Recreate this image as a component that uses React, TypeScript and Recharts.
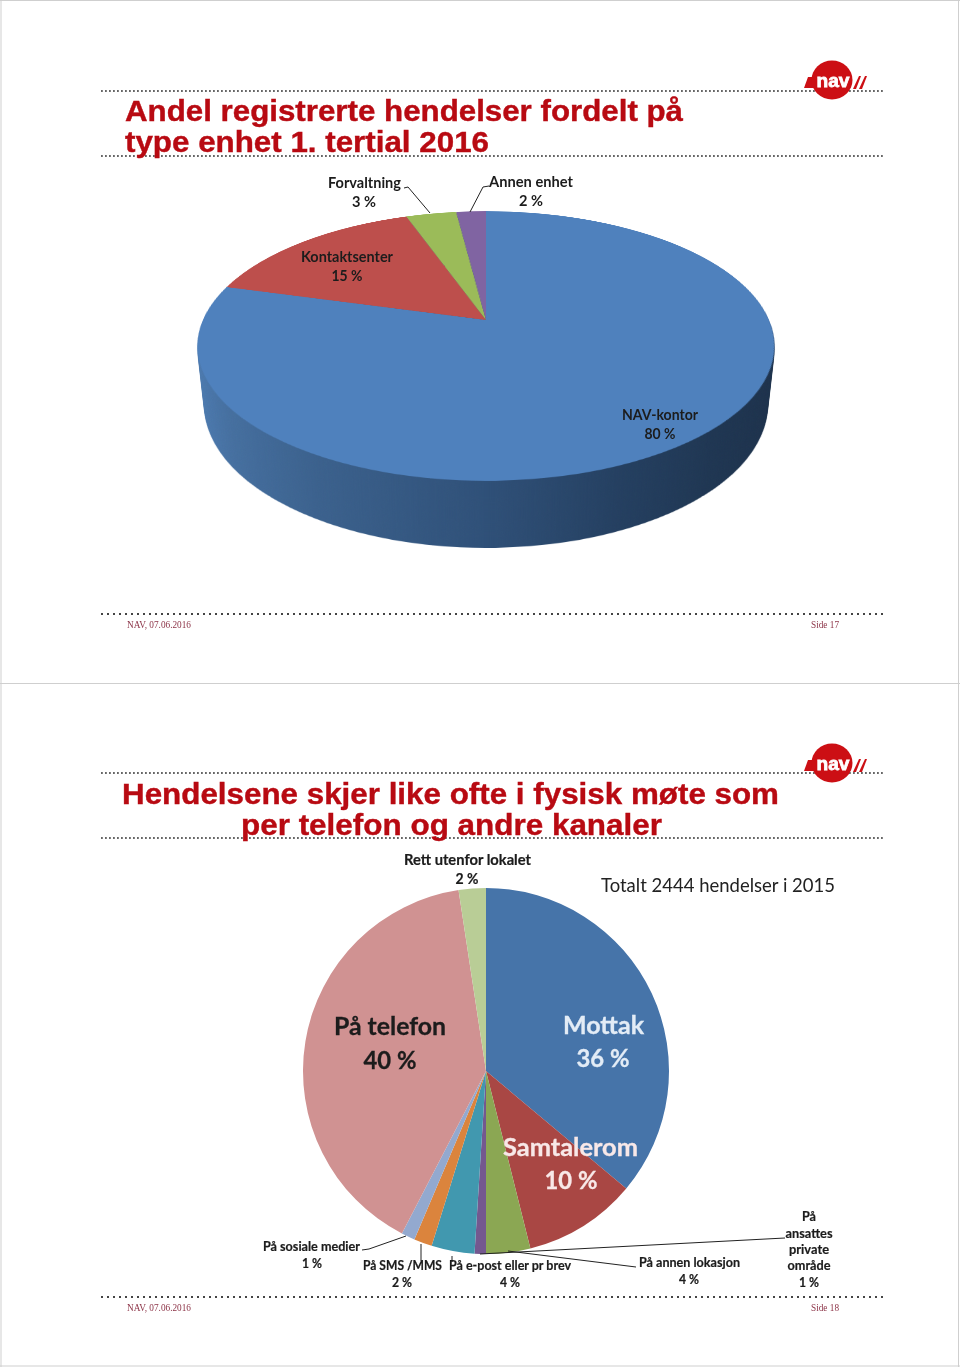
import { PieChart, Pie, Cell } from "recharts";

// slide 1: shares as measured from the slices, printed labels are separate
const unitNames = ["NAV-kontor", "Kontaktsenter", "Forvaltning", "Annen enhet"];
const unitShares = [79.3, 15.3, 3.4, 2.0];
const unitColors = ["#4f81bd", "#bd4f4c", "#9bbb59", "#8064a2"];

// slide 2
const channelNames = [
  "Mottak",
  "Samtalerom",
  "På annen lokasjon",
  "På ansattes private område",
  "På e-post eller pr brev",
  "På SMS /MMS",
  "På sosiale medier",
  "På telefon",
  "Rett utenfor lokalet",
];
const channelShares = [36.1, 10, 3.9, 1, 3.8, 1.6, 1.2, 40, 2.4];
const channelColors = [
  "#4674a9", "#a94744", "#8ba753", "#74588f", "#4198af",
  "#db843d", "#93a9cf", "#d09292", "#b9cd96",
];

const unitData = unitNames.map((name, i) => ({ name, value: unitShares[i] }));
const channelData = channelNames.map((name, i) => ({ name, value: channelShares[i] }));

// 3D view of the first pie
const CHART = 600;
const MID = CHART / 2;
const RADIUS = 283;
const THICKNESS = 67;
const VIEW = "perspective(1305px) rotateX(62.7deg)";

const sideStops = [
  [0.0, "#4d7cb3"],
  [0.1, "#456f9f"],
  [0.25, "#3b618d"],
  [0.5, "#2f5078"],
  [0.7, "#243f60"],
  [0.85, "#1f3652"],
  [1.0, "#1c304a"],
];

function TiltedPie({ depth, side }: { depth: number; side: boolean }) {
  return (
    <div
      style={{
        position: "absolute",
        left: 486 - MID,
        top: 320 - MID,
        width: CHART,
        height: CHART,
        transformOrigin: `${MID}px ${MID}px`,
        transform: `${VIEW} translateZ(${-depth}px)`,
      }}
    >
      <PieChart width={CHART} height={CHART} margin={{ top: 0, right: 0, bottom: 0, left: 0 }}>
        {side && (
          <defs>
            <linearGradient id="pieSide" gradientUnits="userSpaceOnUse" x1={MID - RADIUS} x2={MID + RADIUS} y1={0} y2={0}>
              {sideStops.map(([o, c]) => (
                <stop key={o} offset={o} stopColor={c as string} />
              ))}
            </linearGradient>
          </defs>
        )}
        <Pie
          data={unitData}
          dataKey="value"
          cx={MID}
          cy={MID}
          innerRadius={0}
          outerRadius={RADIUS}
          startAngle={90}
          endAngle={-270}
          stroke="none"
          isAnimationActive={false}
        >
          {unitData.map((_, i) => (
            <Cell key={i} fill={side ? "url(#pieSide)" : unitColors[i]} stroke="none" />
          ))}
        </Pie>
      </PieChart>
    </div>
  );
}

const sideLayers = Array.from({ length: THICKNESS }, (_, i) => THICKNESS - i);

function T({
  x, y, w, size = 14.5, weight = 700, fill = "#1c1c1c", anchor = "middle", font = "Lato", heavy = 0, children,
}: any) {
  return (
    <text
      x={x}
      y={y}
      fontSize={size}
      fontWeight={weight}
      fontFamily={font}
      fill={fill}
      stroke={heavy ? fill : undefined}
      strokeWidth={heavy || undefined}
      textAnchor={anchor}
      textLength={w}
      lengthAdjust={w ? "spacingAndGlyphs" : undefined}
    >
      {children}
    </text>
  );
}

function Logo({ cx, cy }: { cx: number; cy: number }) {
  const red = "#cc0f14";
  return (
    <g>
      <polygon points={`${cx - 28},${cy + 8} ${cx - 24},${cy - 3} ${cx - 16},${cy - 3} ${cx - 18},${cy + 8}`} fill={red} />
      <polygon points={`${cx + 21},${cy + 9} ${cx + 27},${cy - 4} ${cx + 29},${cy - 4} ${cx + 24},${cy + 9}`} fill={red} />
      <polygon points={`${cx + 27},${cy + 9} ${cx + 33},${cy - 4} ${cx + 35},${cy - 4} ${cx + 30},${cy + 9}`} fill={red} />
      <ellipse cx={cx} cy={cy} rx={20.5} ry={19.5} fill={red} />
      <text
        x={cx + 1}
        y={cy + 7}
        fontFamily="Liberation Sans"
        fontWeight={700}
        fontSize={19}
        fill="#fff"
        stroke="#fff"
        strokeWidth={0.8}
        textAnchor="middle"
        textLength={33}
        lengthAdjust="spacingAndGlyphs"
      >
        nav
      </text>
    </g>
  );
}

function Dots({ y, fine }: { y: number; fine?: boolean }) {
  return (
    <line
      x1={101}
      x2={883}
      y1={y}
      y2={y}
      stroke={fine ? "#666" : "#444"}
      strokeWidth={fine ? 1.8 : 2}
      strokeDasharray={fine ? "1.8 2.2" : "2 4"}
    />
  );
}

function Leader({ points }: { points: string }) {
  return <polyline points={points} fill="none" stroke="#222" strokeWidth={1} />;
}

const TITLE_RED = "#b80a12";
const FOOT_RED = "#8c3347";
const titleFont = { size: 30, weight: 700, fill: TITLE_RED, anchor: "start", font: "Liberation Sans", heavy: 0.4 };

export default function App() {
  return (
    <div style={{ position: "absolute", left: 0, top: 0, width: 960, height: 1367, background: "#fff", overflow: "hidden" }}>
      {sideLayers.map((d) => (
        <TiltedPie key={d} depth={d} side />
      ))}
      <TiltedPie depth={0} side={false} />

      <div style={{ position: "absolute", left: 486 - 200, top: 1071 - 200 }}>
        <PieChart width={400} height={400} margin={{ top: 0, right: 0, bottom: 0, left: 0 }}>
          <Pie
            data={channelData}
            dataKey="value"
            cx={200}
            cy={200}
            innerRadius={0}
            outerRadius={183}
            startAngle={90}
            endAngle={-270}
            stroke="none"
            isAnimationActive={false}
          >
            {channelData.map((_, i) => (
              <Cell key={i} fill={channelColors[i]} stroke="none" />
            ))}
          </Pie>
        </PieChart>
      </div>

      <svg width={960} height={1367} style={{ position: "absolute", left: 0, top: 0 }}>
        {/* slide frames */}
        <line x1={1} x2={1} y1={0} y2={1367} stroke="#cfcfcf" strokeWidth={1} />
        <line x1={958.5} x2={958.5} y1={0} y2={1367} stroke="#cfcfcf" strokeWidth={1} />
        <line x1={0} x2={960} y1={0.5} y2={0.5} stroke="#cfcfcf" strokeWidth={1} />
        <line x1={0} x2={960} y1={683.5} y2={683.5} stroke="#cfcfcf" strokeWidth={1} />
        <line x1={0} x2={960} y1={1366} y2={1366} stroke="#cfcfcf" strokeWidth={1} />

        {/* slide 1 */}
        <Dots y={91} fine />
        <Dots y={156} fine />
        <Dots y={614} />
        <Logo cx={832} cy={80} />
        <T x={125} y={120.5} w={558} {...titleFont}>Andel registrerte hendelser fordelt på</T>
        <T x={125} y={151.5} w={364} {...titleFont}>type enhet 1. tertial 2016</T>
        <T x={364.5} y={187.5} w={73}>Forvaltning</T>
        <T x={364} y={206.5} w={24}>3 %</T>
        <T x={531} y={186.5} w={84}>Annen enhet</T>
        <T x={531} y={205.5} w={24}>2 %</T>
        <T x={347} y={261.5} w={92}>Kontaktsenter</T>
        <T x={347} y={280.5} w={31}>15 %</T>
        <T x={660} y={419.5} w={76}>NAV-kontor</T>
        <T x={660} y={438.5} w={31}>80 %</T>
        <Leader points="404,188 408,187 430,213" />
        <Leader points="489,186 483,187 470,212" />
        <T x={127} y={628} w={64} size={9.5} weight={400} fill={FOOT_RED} anchor="start" font="Liberation Serif">NAV, 07.06.2016</T>
        <T x={811} y={628} w={28} size={9.5} weight={400} fill={FOOT_RED} anchor="start" font="Liberation Serif">Side 17</T>

        {/* slide 2 */}
        <Dots y={773} fine />
        <Dots y={838} fine />
        <Dots y={1297} />
        <Logo cx={832} cy={763} />
        <T x={122} y={804} w={657} {...titleFont}>Hendelsene skjer like ofte i fysisk møte som</T>
        <T x={241} y={835} w={421} {...titleFont}>per telefon og andre kanaler</T>
        <T x={467.5} y={864.5} w={127} heavy={0.2}>Rett utenfor lokalet</T>
        <T x={467} y={883.5} w={23} heavy={0.2}>2 %</T>
        <T x={601} y={892} w={234} size={20} weight={400} fill="#222" anchor="start">Totalt 2444 hendelser i 2015</T>

        <T x={390} y={1035} w={112} size={25} heavy={0.3}>På telefon</T>
        <T x={390} y={1069} w={53} size={25} heavy={0.3}>40 %</T>
        <T x={603.5} y={1034} w={81} size={25} fill="#e3ecf6" heavy={0.3}>Mottak</T>
        <T x={603} y={1067} w={53} size={25} fill="#e3ecf6" heavy={0.3}>36 %</T>
        <T x={570.5} y={1156} w={135} size={25} fill="#f8e8e8" heavy={0.3}>Samtalerom</T>
        <T x={571} y={1189} w={53} size={25} fill="#f8e8e8" heavy={0.3}>10 %</T>

        <T x={311.5} y={1251} w={97} size={12.5} heavy={0.2}>På sosiale medier</T>
        <T x={312} y={1268} w={20} size={12.5} heavy={0.2}>1 %</T>
        <T x={402.5} y={1270} w={79} size={12.5} heavy={0.2}>På SMS /MMS</T>
        <T x={402} y={1287} w={20} size={12.5} heavy={0.2}>2 %</T>
        <T x={510} y={1270} w={122} size={12.5} heavy={0.2}>På e-post eller pr brev</T>
        <T x={510} y={1287} w={20} size={12.5} heavy={0.2}>4 %</T>
        <T x={689.5} y={1267} w={101} size={12.5} heavy={0.2}>På annen lokasjon</T>
        <T x={689} y={1284} w={20} size={12.5} heavy={0.2}>4 %</T>
        <T x={809} y={1221} w={14} size={12.5} heavy={0.2}>På</T>
        <T x={809} y={1238} w={47} size={12.5} heavy={0.2}>ansattes</T>
        <T x={809} y={1254} w={40} size={12.5} heavy={0.2}>private</T>
        <T x={809} y={1270} w={43} size={12.5} heavy={0.2}>område</T>
        <T x={809} y={1287} w={20} size={12.5} heavy={0.2}>1 %</T>

        <Leader points="362,1250 369,1249 406,1236" />
        <Leader points="421,1244 421,1261" />
        <Leader points="452,1256 452,1262" />
        <Leader points="508,1251 636,1267" />
        <Leader points="480,1254 785,1238" />

        <T x={127} y={1311} w={64} size={9.5} weight={400} fill={FOOT_RED} anchor="start" font="Liberation Serif">NAV, 07.06.2016</T>
        <T x={811} y={1311} w={28} size={9.5} weight={400} fill={FOOT_RED} anchor="start" font="Liberation Serif">Side 18</T>
      </svg>
    </div>
  );
}
